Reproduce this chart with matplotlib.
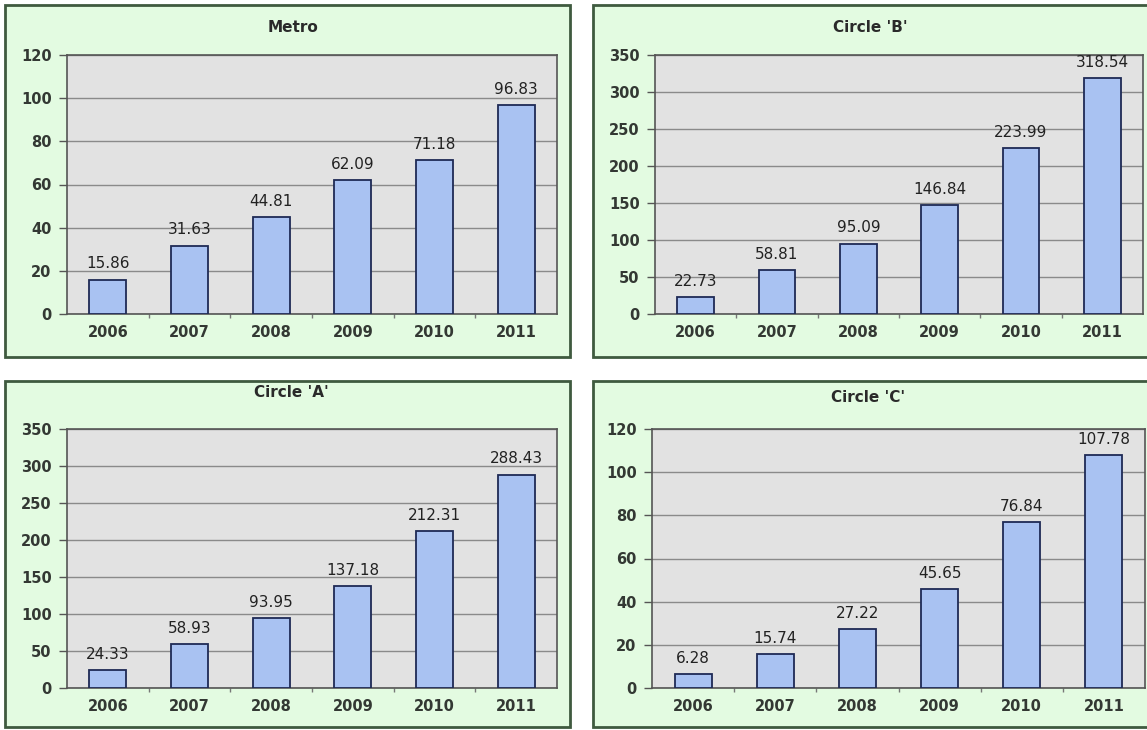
import matplotlib
matplotlib.use("Agg")
import matplotlib.pyplot as plt
from matplotlib.patches import Rectangle

years = ["2006", "2007", "2008", "2009", "2010", "2011"]
titles = ["Metro", "Circle 'B'", "Circle 'A'", "Circle 'C'"]
metro = [15.86, 31.63, 44.81, 62.09, 71.18, 96.83]
circle_b = [22.73, 58.81, 95.09, 146.84, 223.99, 318.54]
circle_a = [24.33, 58.93, 93.95, 137.18, 212.31, 288.43]
circle_c = [6.28, 15.74, 27.22, 45.65, 76.84, 107.78]
series = [metro, circle_b, circle_a, circle_c]
ymaxes = [120, 350, 350, 120]
ysteps = [20, 50, 50, 20]

W, H = 1147, 730
fig = plt.figure(figsize=(W / 100, H / 100), dpi=100)
fig.patch.set_facecolor("white")

# panel boxes (pixels): x0, y0, x1, y1
panels = [(5, 5, 570, 357), (593, 5, 1155, 357), (5, 381, 570, 727), (593, 381, 1155, 727)]
# plot areas (pixels): x0, ytop, x1, ybottom
plots = [(67, 55, 557, 314), (655, 55, 1143, 314), (67, 429, 557, 688), (652, 429, 1145, 688)]
title_pos = [(293, 27), (870, 27), (291, 393), (868, 397)]

for i in range(4):
    px0, py0, px1, py1 = panels[i]
    fig.patches.append(Rectangle((px0 / W, 1 - py1 / H), (px1 - px0) / W, (py1 - py0) / H,
                                 transform=fig.transFigure, facecolor="#E3FBE1",
                                 edgecolor="#3F5A3F", linewidth=2.0, zorder=-5))
    ax0, ay0, ax1, ay1 = plots[i]
    ax = fig.add_axes([ax0 / W, 1 - ay1 / H, (ax1 - ax0) / W, (ay1 - ay0) / H])
    ax.set_zorder(2)
    ax.set_facecolor("#E2E2E2")
    vals = series[i]
    x = list(range(len(years)))
    ax.bar(x, vals, width=0.45, color="#A9C2F2", edgecolor="#1E2A55", linewidth=1.3, zorder=3)
    ax.set_xlim(-0.5, len(years) - 0.5)
    ax.set_ylim(0, ymaxes[i])
    ax.set_yticks(range(0, ymaxes[i] + 1, ysteps[i]))
    ax.set_xticks(x)
    ax.set_xticklabels(years)
    ax.set_xticks([k + 0.5 for k in range(len(years) - 1)], minor=True)
    ax.yaxis.grid(True, color="#8A8A8A", linewidth=1.0, zorder=1)
    ax.set_axisbelow(True)
    for sp in ax.spines.values():
        sp.set_color("#555555")
        sp.set_linewidth(1.2)
    ax.tick_params(axis="y", labelsize=10.5, colors="#555555", length=6, width=1, pad=5)
    ax.tick_params(axis="x", which="major", labelsize=10.5, length=0, pad=8)
    ax.tick_params(axis="x", which="minor", length=3, width=1, colors="#777777")
    for lab in ax.get_xticklabels() + ax.get_yticklabels():
        lab.set_color("#333833")
        lab.set_fontweight("bold")
    for xi, v in zip(x, vals):
        ax.annotate(f"{v:.2f}", (xi, v), xytext=(0, 6), textcoords="offset points",
                    ha="center", va="bottom", fontsize=11, color="#222222", zorder=4)
    tx, ty = title_pos[i]
    fig.text(tx / W, 1 - ty / H, titles[i], ha="center", va="center",
             fontsize=11, fontweight="bold", color="#2A2A2A")

fig.savefig("out.png", dpi=100)
